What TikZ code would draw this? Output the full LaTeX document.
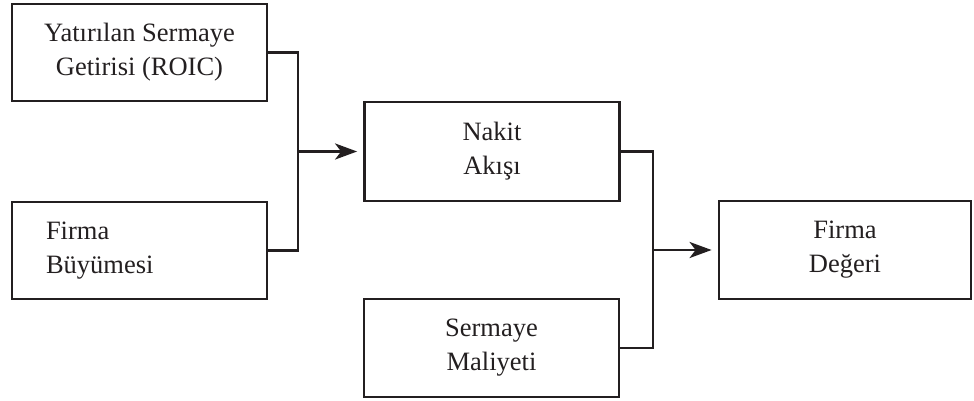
\documentclass[tikz,border=0pt]{standalone}
\usepackage{fontspec}
\setmainfont{Liberation Serif}
\usepackage{tikz}
\usetikzlibrary{arrows.meta,positioning}
\definecolor{ink}{HTML}{231F20}

\begin{document}
\begin{tikzpicture}[
    x=1pt, y=-1pt,
    font=\fontsize{26.5}{34}\selectfont,
    box/.style={rectangle, draw=ink, line width=2.8pt, text=ink,
                minimum width=255pt, minimum height=97pt, align=center},
    link/.style={draw=ink, line width=2.8pt},
    arrow/.style={link, -{Stealth[length=22pt, width=16pt, inset=6pt]},
                  shorten >=6pt}
]
\useasboundingbox (0,0) rectangle (974,401);

% Inputs of the cash flow
\node[box] (roic) at (139.5,52.5) {Yatırılan Sermaye\\Getirisi (ROIC)};
\node[box, align=left, text width=187pt, inner xsep=34pt] (growth) at (139.5,250.5)
    {Firma\\Büyümesi};

% Middle column
\node[box, minimum height=99pt] (cash) at (492,151.5) {Nakit\\Akışı};
\node[box, minimum height=98pt] (cost) at (491.5,348) {Sermaye\\Maliyeti};

% Result
\node[box, minimum width=252pt, minimum height=98pt] (value) at (845,250) {Firma\\Değeri};

% Joins
\coordinate (jA) at (298,151.5);
\coordinate (jB) at (653,250);

\draw[link] (roic.east) -| (jA) |- (growth.east);
\draw[arrow] (jA) -- (cash.west);

\draw[link] (cash.east) -| (jB) |- (cost.east);
\draw[arrow] (jB) -- (value.west);

\end{tikzpicture}
\end{document}
